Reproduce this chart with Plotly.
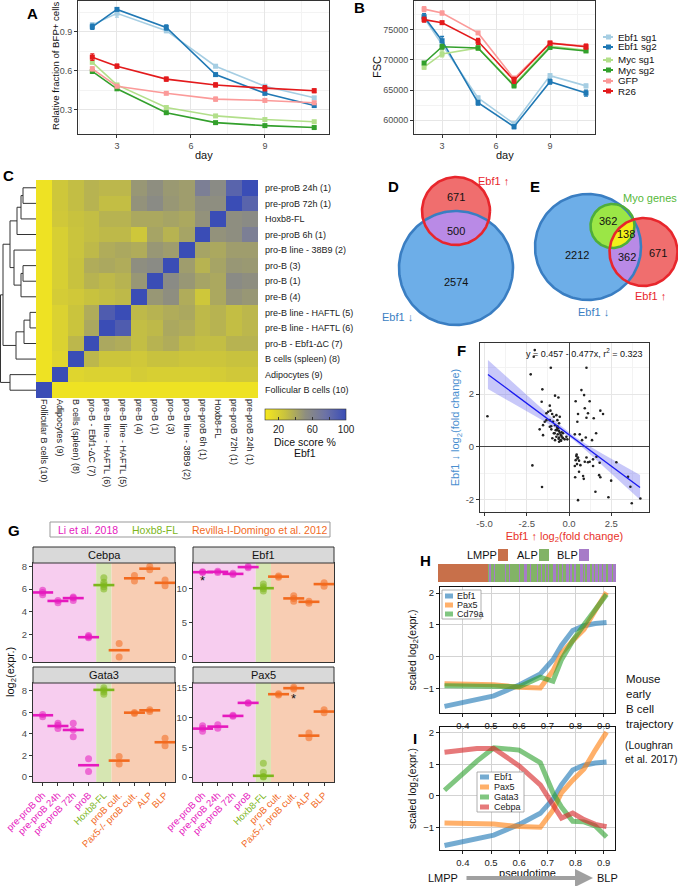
import numpy as np
import plotly.graph_objects as go

W, H = 678, 886
FONT = "Liberation Sans, Arial, Helvetica, sans-serif"

# ---------------- Panel A / B data ----------------
days = [2, 3, 5, 7, 9, 11]
series_names = ["Ebf1 sg1", "Ebf1 sg2", "Myc sg1", "Myc sg2", "GFP", "R26"]
series_colors = ["#A6CEE3", "#1F78B4", "#B2DF8A", "#33A02C", "#FB9A99", "#E31A1C"]

bfp_ebf1_sg1 = [0.955, 1.045, 0.91, 0.635, 0.48, 0.39]
bfp_ebf1_sg2 = [0.94, 1.075, 0.935, 0.57, 0.425, 0.33]
bfp_myc_sg1 = [0.665, 0.49, 0.315, 0.25, 0.222, 0.205]
bfp_myc_sg2 = [0.595, 0.46, 0.275, 0.198, 0.175, 0.16]
bfp_gfp = [0.615, 0.48, 0.425, 0.38, 0.37, 0.352]
bfp_r26 = [0.705, 0.635, 0.535, 0.49, 0.465, 0.445]
bfp_err_ebf1_sg1 = [0.015, 0.03, 0.015, 0.01, 0.01, 0.01]
bfp_err_ebf1_sg2 = [0.02, 0.01, 0.02, 0.01, 0.01, 0.01]
bfp_err_myc_sg1 = [0.01, 0.01, 0.01, 0.008, 0.008, 0.008]
bfp_err_myc_sg2 = [0.015, 0.01, 0.01, 0.008, 0.008, 0.008]
bfp_err_gfp = [0.015, 0.01, 0.008, 0.015, 0.01, 0.01]
bfp_err_r26 = [0.025, 0.015, 0.015, 0.015, 0.02, 0.015]

fsc_ebf1_sg1 = [77000, 72600, 63700, 59400, 67400, 65700]
fsc_ebf1_sg2 = [77200, 73200, 62900, 58900, 66400, 64500]
fsc_myc_sg1 = [68800, 71000, 72000, 65900, 72300, 71600]
fsc_myc_sg2 = [69500, 72200, 72000, 65700, 72100, 71500]
fsc_gfp = [78450, 77800, 74500, 66900, 72800, 72300]
fsc_r26 = [76700, 76200, 73100, 66600, 72800, 72200]
fsc_err_ebf1_sg1 = [300, 400, 300, 300, 300, 300]
fsc_err_ebf1_sg2 = [500, 700, 400, 300, 400, 500]
fsc_err_myc_sg1 = [300, 500, 300, 300, 300, 300]
fsc_err_myc_sg2 = [200, 400, 300, 300, 300, 200]
fsc_err_gfp = [400, 300, 200, 400, 300, 400]
fsc_err_r26 = [400, 200, 500, 500, 300, 400]

# ---------------- Panel C data ----------------
dice_cols = ["Follicular B cells (10)", "Adipocytes (9)", "B cells (spleen) (8)",
             "pro-B - Ebf1-\u0394C (7)", "pre-B line - HAFTL (6)", "pre-B line - HAFTL (5)",
             "pre-B (4)", "pro-B (1)", "pro-B (3)", "pro-B line - 38B9 (2)",
             "pre-proB 6h (1)", "Hoxb8-FL", "pre-proB 72h (1)", "pre-proB 24h (1)"]
dice_rows = list(reversed(dice_cols))
dice_values = [
    [8, 25, 30, 35, 33, 33, 48, 52, 47, 45, 65, 55, 85, 100],
    [8, 25, 30, 35, 30, 30, 50, 55, 48, 45, 52, 52, 100, 85],
    [8, 24, 28, 30, 35, 35, 40, 40, 42, 40, 50, 100, 52, 55],
    [8, 20, 27, 30, 32, 32, 25, 42, 35, 42, 100, 50, 52, 65],
    [8, 20, 27, 32, 38, 40, 38, 48, 45, 100, 42, 40, 45, 45],
    [8, 20, 28, 38, 40, 38, 52, 55, 100, 45, 35, 42, 48, 47],
    [8, 20, 28, 35, 32, 35, 48, 100, 55, 48, 42, 40, 55, 52],
    [8, 22, 24, 28, 30, 32, 100, 48, 52, 38, 25, 40, 50, 48],
    [8, 18, 27, 38, 90, 100, 32, 35, 38, 40, 32, 35, 30, 33],
    [8, 18, 27, 40, 100, 90, 30, 32, 40, 38, 32, 35, 30, 33],
    [8, 18, 33, 100, 40, 38, 30, 35, 38, 32, 30, 30, 35, 35],
    [8, 16, 100, 33, 26, 26, 24, 28, 28, 26, 26, 26, 28, 28],
    [8, 100, 16, 18, 18, 18, 22, 20, 20, 20, 20, 22, 24, 24],
    [100, 8, 8, 8, 8, 8, 8, 8, 8, 8, 8, 8, 8, 8],
]
# dendrogram merges: (child, child, x-position of the join)
dendro_merges = [(0, 1, 23), ("m0", 2, 21), ("m1", 3, 17), (5, 6, 23), ("m3", 7, 21),
                 (4, "m4", 14), ("m2", "m5", 10), (8, 9, 30), ("m7", 10, 24), ("m8", 11, 16),
                 ("m6", "m9", 3), (12, 13, 10), ("m10", "m11", 0.5)]

# ---------------- Panel D / E data ----------------
venn_d_up_only, venn_d_both, venn_d_down_only = 671, 500, 2574
venn_e_down_only, venn_e_myo_down, venn_e_myo_all, venn_e_down_up, venn_e_up_only = 2212, 362, 138, 362, 671

# ---------------- Panel F data ----------------
f_x = [-2.03, -2.09, -2.27, -1.08, 1.03, -4.83, -1.58, -1.62, -0.83, -0.63, -1.14, -1.24, -1.34, -1.1,
       -1.0, -0.9, -0.75, -0.55, -0.69, -0.95, -1.14, -1.44, -1.54, -1.74, -1.54, -1.05, -0.9, -0.79,
       -0.65, -0.55, -0.45, -0.36, -0.59, -0.75, -0.67, -0.51, -0.26, -0.99, -0.83, -0.69, -0.59, -1.14,
       0.39, 0.73, 0.89, 1.22, 0.93, 0.53, 0.49, 1.12, 1.46, 1.85, 2.01, 1.03, 0.34, 0.63, 0.99, 1.36,
       1.6, 0.77, 0.43, 0.53, 0.39, 0.59, 0.47, 0.34, 0.67, 0.93, 1.42, 1.03, 1.62, 1.81, 1.42, 0.36,
       0.83, 0.87, 0.59, 1.78, 1.85, 2.49, 2.8, 1.56, 2.33, 0.53, 3.49, 3.63, 3.71, 4.22, -2.17, -1.6,
       1.12, 1.22, -0.36, -0.16, -0.1, -0.39, -0.47, -0.59, -0.83, -0.71, -0.85, -1.06, -1.34, -0.6,
       -0.5, -0.7, -0.62, -0.44, 0.45, 0.5]
f_y = [3.67, 3.42, 2.75, 3.0, 3.0, 1.16, 2.18, 1.71, 1.94, 1.87, 1.56, 1.33, 1.27, 1.37,
       1.24, 1.14, 1.2, 1.14, 1.01, 0.95, 1.01, 0.95, 0.82, 0.66, 0.44, 0.66, 0.51, 0.63,
       0.7, 0.53, 0.41, 0.32, 0.35, 0.38, 0.47, 0.25, 0.28, 0.32, 0.82, 0.78, 0.89, 0.76,
       1.73, 2.15, 1.96, 1.73, 1.46, 1.24, 0.95, 1.27, 1.08, 1.37, 1.24, 1.1, 0.47, 0.47, 0.35, 0.25,
       0.51, 0.25, -0.35, -0.41, -0.51, -0.53, -0.66, -0.73, -0.7, -0.57, -0.48, -0.41, -0.38, -0.61, -0.73, -1.16,
       -1.11, -1.22, -0.95, -1.08, -1.16, -1.29, -0.59, -1.71, -1.92, -2.03, -1.14, -1.52, -2.15, -1.97, -0.71, -1.53,
       -0.59, -0.57, 0.51, 0.38, 0.28, 0.35, 0.23, 0.19, 0.25, 0.63, 0.51, 0.78, 1.01, 0.6,
       0.45, 0.72, 0.3, 0.55, -0.3, -0.45]
fit_intercept, fit_slope = 0.457, -0.477
fit_x_range = [-4.8, 4.2]
band_x = [-4.8, -3.5, -2.5, -1.5, -0.5, 0.3, 1.0, 2.0, 3.0, 4.2]
band_halfwidth = [0.55, 0.42, 0.31, 0.2, 0.11, 0.08, 0.12, 0.22, 0.33, 0.47]

# ---------------- Panel G data ----------------
g_categories = ["pre-proB 0h", "pre-proB 24h", "pre-proB 72h", "proB", "Hoxb8-FL",
                "proB cult.", "Pax5-/- proB cult.", "ALP", "BLP"]
g_groups = ["li", "li", "li", "li", "hox", "rev", "rev", "rev", "rev"]
g_group_colors = {"li": "#E619BE", "hox": "#7DB61C", "rev": "#F26A1E"}
cebpa_pts = [[5.5, 5.7, 5.9], [4.8, 5.0], [5.0, 5.2, 5.3], [1.7, 1.8, 1.9], [6.0, 6.2, 6.4, 6.6, 7.0],
             [1.2, 0.0], [6.7, 7.2], [7.7, 8.0], [6.3, 6.8]]
cebpa_med = [5.7, 4.95, 5.2, 1.75, 6.35, 0.6, 6.95, 7.8, 6.55]
ebf1_pts = [[12.4, 12.5], [12.4, 12.6], [12.1, 12.3], [13.1, 13.3], [9.7, 10.0, 10.3, 10.7],
            [11.7, 11.9], [8.2, 8.6, 9.0], [7.9, 8.2], [10.4, 10.9]]
ebf1_med = [12.45, 12.5, 12.2, 13.2, 10.1, 11.8, 8.6, 8.1, 10.7]
gata3_pts = [[5.6, 5.8], [4.5, 4.8, 5.0], [3.75, 4.4, 5.0], [0.5, 1.7], [7.7, 7.9, 8.1, 8.3],
             [1.2, 1.9], [5.9, 6.0], [6.1, 6.25], [2.9, 3.6]]
gata3_med = [5.74, 4.74, 4.37, 1.09, 8.1, 1.52, 5.98, 6.2, 3.23]
pax5_pts = [[7.7, 8.2, 8.6], [8.2, 8.8], [10.2, 10.4], [12.4, 12.5], [2.3, 0.8, 0.1, 0.0],
            [13.8, 14.0], [14.8, 15.1], [6.6, 7.4], [10.8, 11.3]]
pax5_med = [8.13, 8.47, 10.27, 12.46, 0.2, 13.92, 14.93, 6.95, 11.0]

# ---------------- Panel H / I data ----------------
pseudotime = [0.335, 0.4, 0.45, 0.51, 0.6, 0.675, 0.72, 0.75, 0.79, 0.83, 0.87, 0.91]
traj_ebf1 = [-1.57, -1.45, -1.35, -1.24, -0.9, -0.55, -0.1, 0.35, 0.82, 0.97, 1.04, 1.07]
traj_pax5 = [-0.86, -0.87, -0.88, -0.89, -0.97, -0.99, -0.45, 0.1, 0.5, 0.85, 1.45, 2.02]
traj_cd79a = [-0.92, -0.93, -0.94, -0.95, -0.95, -0.65, -0.78, -0.1, 0.5, 1.0, 1.5, 1.95]
traj_gata3 = [0.18, 0.7, 1.1, 1.52, 1.45, 1.05, 0.1, -0.35, -0.8, -0.82, -0.95, -1.3]
traj_cebpa = [1.38, 1.46, 1.5, 1.5, 0.95, 0.35, -0.3, -0.7, -0.54, -0.75, -0.9, -0.97]
cell_states = ("LLLLLLLLLLLLLLLLLLLLLLLLLLLLLLLLLLLL"
               "ABAABAAAAAAABAABAAAAAABAAABBAABAAAAB"
               "AABAABABAAABBABAABAABBABAABAAABBABAB"
               "BAABABBABBABBABBBABB")
state_names = ["LMPP", "ALP", "BLP"]
state_colors = ["#C8704A", "#82B366", "#A77BC8"]

# ======================================================================
fig = go.Figure()
shapes, annos, axes = [], [], {}


def set_axes(n, x0, x1, y0, y1, xa, ya):
    xk = "xaxis" if n == 1 else f"xaxis{n}"
    yk = "yaxis" if n == 1 else f"yaxis{n}"
    xr = "x" if n == 1 else f"x{n}"
    yr = "y" if n == 1 else f"y{n}"
    axes[xk] = dict(domain=[x0 / W, x1 / W], anchor=yr, automargin=False, **xa)
    axes[yk] = dict(domain=[1 - y1 / H, 1 - y0 / H], anchor=xr, automargin=False, **ya)
    return xr, yr


def text(x, y, s, size=10, color="#222", xanchor="center", yanchor="middle", angle=0, align="center"):
    annos.append(dict(xref="paper", yref="paper", x=x / W, y=1 - y / H, text=s, showarrow=False,
                      font=dict(size=size, color=color, family=FONT), xanchor=xanchor,
                      yanchor=yanchor, textangle=angle, align=align))


def rect(x0, y0, x1, y1, fill, line=None, lw=1, layer="above"):
    shapes.append(dict(type="rect", xref="paper", yref="paper", x0=x0 / W, x1=x1 / W,
                       y0=1 - y1 / H, y1=1 - y0 / H, fillcolor=fill, layer=layer,
                       line=dict(color=line if line else "rgba(0,0,0,0)", width=lw if line else 0)))


def hline(x0, x1, y, color, width):
    shapes.append(dict(type="line", xref="paper", yref="paper", x0=x0 / W, x1=x1 / W,
                       y0=1 - y / H, y1=1 - y / H, line=dict(color=color, width=width)))


FRAME = dict(showline=True, mirror=True, linecolor="#333333", linewidth=1, zeroline=False)
TICKF = dict(size=9.5, color="#4D4D4D", family=FONT)
TICKF_AB = dict(size=9, color="#4D4D4D", family=FONT)


def bw_axis(rng, tickvals, ticktext, minor_vals, title="", tsize=11, tickfont=TICKF):
    d = dict(range=rng, tickvals=tickvals, ticktext=ticktext, ticks="outside", ticklen=3,
             tickcolor="#333", tickfont=tickfont, showgrid=True, gridcolor="#E6E6E6", gridwidth=1,
             minor=dict(tickvals=minor_vals, showgrid=True, gridcolor="#F3F3F3", gridwidth=0.6, ticks=""),
             title=dict(text=title, font=dict(size=tsize, color="#111", family=FONT), standoff=3), **FRAME)
    return d


# ---------------- Panel A ----------------
xa, ya = set_axes(1, 78, 329, 1, 134,
                  bw_axis([1.42, 11.6], [3, 6, 9], ["3", "6", "9"], [1.5, 4.5, 7.5, 10.5], tickfont=TICKF_AB),
                  bw_axis([0.11, 1.14], [0.3, 0.6, 0.9], ["0.3", "0.6", "0.9"], [0.45, 0.75, 1.05],
                          tickfont=TICKF_AB))
text(203.5, 155, "day", size=11, color="#111")
text(55, 66, "Relative fraction of BFP+ cells", size=9.6, color="#111", angle=-90)
bfp_series = [bfp_ebf1_sg1, bfp_ebf1_sg2, bfp_myc_sg1, bfp_myc_sg2, bfp_gfp, bfp_r26]
bfp_errs = [bfp_err_ebf1_sg1, bfp_err_ebf1_sg2, bfp_err_myc_sg1, bfp_err_myc_sg2, bfp_err_gfp, bfp_err_r26]
for name, col, vals, err in zip(series_names, series_colors, bfp_series, bfp_errs):
    fig.add_trace(go.Scatter(x=days, y=vals, mode="lines+markers", name=name, xaxis=xa, yaxis=ya,
                             line=dict(color=col, width=1.6), marker=dict(color=col, size=5, symbol="square"),
                             error_y=dict(type="data", array=err, color=col, thickness=1.3, width=2),
                             showlegend=False))

# ---------------- Panel B ----------------
xb, yb = set_axes(2, 414, 595, 1, 134,
                  bw_axis([1.44, 11.5], [3, 6, 9], ["3", "6", "9"], [1.5, 4.5, 7.5, 10.5], tickfont=TICKF_AB),
                  bw_axis([57700, 79800], [60000, 65000, 70000, 75000],
                          ["60000", "65000", "70000", "75000"], [62500, 67500, 72500, 77500], tickfont=TICKF_AB))
text(504.5, 155, "day", size=11, color="#111")
text(377, 67, "FSC", size=11, color="#111", angle=-90)
fsc_series = [fsc_ebf1_sg1, fsc_ebf1_sg2, fsc_myc_sg1, fsc_myc_sg2, fsc_gfp, fsc_r26]
fsc_errs = [fsc_err_ebf1_sg1, fsc_err_ebf1_sg2, fsc_err_myc_sg1, fsc_err_myc_sg2, fsc_err_gfp, fsc_err_r26]
for name, col, vals, err in zip(series_names, series_colors, fsc_series, fsc_errs):
    fig.add_trace(go.Scatter(x=days, y=vals, mode="lines+markers", name=name, xaxis=xb, yaxis=yb,
                             line=dict(color=col, width=1.6), marker=dict(color=col, size=5, symbol="square"),
                             error_y=dict(type="data", array=err, color=col, thickness=1.3, width=2),
                             showlegend=False))
# manual legend for B
leg_y = [37, 47, 60, 70, 81, 91]
for name, col, yy in zip(series_names, series_colors, leg_y):
    hline(603, 613, yy, col, 2)
    rect(606, yy - 2.5, 611, yy + 2.5, col)
    text(616, yy, name, size=9.8, color="#111", xanchor="left")

# ---------------- Panel C ----------------
n_items = len(dice_cols)
xc, yc = set_axes(3, 36, 258, 180, 398,
                  dict(range=[-0.5, n_items - 0.5], tickvals=list(range(n_items)), ticktext=dice_cols,
                       tickangle=90, tickfont=dict(size=9, color="#222", family=FONT), ticks="",
                       showgrid=False, zeroline=False, showline=False),
                  dict(range=[n_items - 0.5, -0.5], tickvals=list(range(n_items)), ticktext=dice_rows,
                       side="right", tickfont=dict(size=9, color="#222", family=FONT), ticks="",
                       ticklabelstandoff=6, showgrid=False, zeroline=False, showline=False))
fig.add_trace(go.Heatmap(z=dice_values, x=list(range(n_items)), y=list(range(n_items)), xaxis=xc, yaxis=yc,
                         zmin=4, zmax=100,
                         colorscale=[[0, "#F6E81E"], [0.25, "#C8C23E"], [0.5, "#8E8E80"], [0.75, "#6C72A6"],
                                     [1, "#3A4DB6"]],
                         colorbar=dict(orientation="h", x=305.5 / W, xanchor="center", y=1 - 409 / H,
                                       yanchor="top", xpad=0, ypad=0, lenmode="pixels", len=81, thickness=11,
                                       tickvals=[20, 40, 60, 80, 100], ticktext=["20", " ", "60", " ", "100"],
                                       ticks="inside", ticklen=3, tickcolor="#333",
                                       tickfont=dict(size=10, color="#222", family=FONT),
                                       outlinecolor="#333", outlinewidth=0.6),
                         hoverinfo="skip"))
text(305, 442, "Dice score %", size=10.5, color="#111")
text(305, 453, "Ebf1", size=10.5, color="#111")

# dendrogram
xd, yd = set_axes(4, 0, 36, 180, 398,
                  dict(range=[0, 36], visible=False, fixedrange=True),
                  dict(range=[n_items - 0.5, -0.5], visible=False, fixedrange=True))
nodes = {i: (36.0, float(i)) for i in range(n_items)}
dx, dy = [], []
for k, (a, b, xm) in enumerate(dendro_merges):
    xa_, ya_ = nodes[a]
    xb_, yb_ = nodes[b]
    dx += [xa_, xm, xm, xb_, None]
    dy += [ya_, ya_, yb_, yb_, None]
    nodes[f"m{k}"] = (xm, (ya_ + yb_) / 2)
fig.add_trace(go.Scatter(x=dx, y=dy, mode="lines", line=dict(color="#333", width=1), xaxis=xd, yaxis=yd,
                         showlegend=False, hoverinfo="skip"))

# ---------------- Panels D / E (Venn) ----------------
xv, yv = set_axes(5, 0, W, 0, H, dict(range=[0, W], visible=False, fixedrange=True),
                  dict(range=[H, 0], visible=False, fixedrange=True))


def circle_xy(c, n=200):
    t = np.linspace(0, 2 * np.pi, n)
    return c[0] + c[2] * np.cos(t), c[1] + c[2] * np.sin(t)


def lens_xy(c1, c2, n=400):
    t = np.linspace(0, 2 * np.pi, n, endpoint=False)
    ax1, ay1 = c1[0] + c1[2] * np.cos(t), c1[1] + c1[2] * np.sin(t)
    ax2, ay2 = c2[0] + c2[2] * np.cos(t), c2[1] + c2[2] * np.sin(t)
    m1 = (ax1 - c2[0]) ** 2 + (ay1 - c2[1]) ** 2 <= c2[2] ** 2
    m2 = (ax2 - c1[0]) ** 2 + (ay2 - c1[1]) ** 2 <= c1[2] ** 2
    px = np.concatenate([ax1[m1], ax2[m2]])
    py = np.concatenate([ay1[m1], ay2[m2]])
    o = np.argsort(np.arctan2(py - py.mean(), px - px.mean()))
    px, py = px[o], py[o]
    return np.append(px, px[0]), np.append(py, py[0])


def fill_poly(xy, color):
    fig.add_trace(go.Scatter(x=xy[0], y=xy[1], mode="lines", fill="toself", fillcolor=color,
                             line=dict(width=0, color=color), xaxis=xv, yaxis=yv,
                             showlegend=False, hoverinfo="skip"))


def outline(c, color, w=2.6):
    xy = circle_xy(c)
    fig.add_trace(go.Scatter(x=xy[0], y=xy[1], mode="lines", line=dict(width=w, color=color),
                             xaxis=xv, yaxis=yv, showlegend=False, hoverinfo="skip"))


BLUE_F, BLUE_L = "#6DAEE8", "#3A7EC2"
RED_F, RED_L = "#F06E6E", "#E8262C"
PURP_F = "#B98AE6"
GREEN_F, GREEN_L = "#9BE646", "#4FAE3A"
YELLOW_F = "#F2F01A"

d_blue = (456, 268, 57)
d_red = (456, 211, 34)
fill_poly(circle_xy(d_blue), BLUE_F)
fill_poly(circle_xy(d_red), RED_F)
fill_poly(lens_xy(d_blue, d_red), PURP_F)
outline(d_blue, BLUE_L)
outline(d_red, RED_L)
text(456, 197, str(venn_d_up_only), size=11, color="#111")
text(456, 231, str(venn_d_both), size=11, color="#111")
text(456, 282, str(venn_d_down_only), size=11, color="#111")
text(494, 181, "Ebf1 \u2191", size=11, color="#E8262C")
text(397, 317, "Ebf1 \u2193", size=11, color="#3A7EC2")

e_blue = (588, 247, 53)
e_green = (612.5, 226, 22)
e_red = (643.5, 252, 34)
fill_poly(circle_xy(e_blue), BLUE_F)
fill_poly(circle_xy(e_red), RED_F)
fill_poly(lens_xy(e_blue, e_red), PURP_F)
fill_poly(circle_xy(e_green), GREEN_F)
fill_poly(lens_xy(e_green, e_red), YELLOW_F)
outline(e_blue, BLUE_L)
outline(e_green, GREEN_L)
outline(e_red, RED_L)
text(608, 221, str(venn_e_myo_down), size=11, color="#111")
text(626, 234, str(venn_e_myo_all), size=11, color="#111")
text(627, 257, str(venn_e_down_up), size=11, color="#111")
text(577, 255, str(venn_e_down_only), size=11, color="#111")
text(658, 253, str(venn_e_up_only), size=11, color="#111")
text(650, 198, "Myo genes", size=11, color="#56B83A")
text(650, 296, "Ebf1 \u2191", size=11, color="#E8262C")
text(593, 312, "Ebf1 \u2193", size=11, color="#3A7EC2")

# ---------------- Panel F ----------------
f_xaxis = bw_axis([-5.27, 4.73], [-5, -2.5, 0, 2.5], ["-5.0", "-2.5", "0.0", "2.5"], [-3.75, -1.25, 1.25, 3.75],
                  "Ebf1 \u2191 log<sub>2</sub>(fold change)")
f_xaxis["title"]["font"]["color"] = "#E8332A"
f_xaxis.update(zeroline=True, zerolinecolor="#444", zerolinewidth=1.3)
f_yaxis = bw_axis([-2.48, 3.94], [-2, 0, 2], ["-2", "0", "2"], [-1, 1, 3],
                  "Ebf1 \u2193 log<sub>2</sub>(fold change)")
f_yaxis["title"]["font"]["color"] = "#4A8FD0"
f_yaxis.update(zeroline=True, zerolinecolor="#444", zerolinewidth=1.3)
xf, yf = set_axes(7, 480, 649, 343, 512, f_xaxis, f_yaxis)
bx = np.array(band_x)
bline = fit_intercept + fit_slope * bx
bhw = np.array(band_halfwidth)
fig.add_trace(go.Scatter(x=np.concatenate([bx, bx[::-1]]), y=np.concatenate([bline + bhw, (bline - bhw)[::-1]]),
                         mode="lines", fill="toself", fillcolor="rgba(110,110,240,0.38)", line=dict(width=0),
                         xaxis=xf, yaxis=yf, showlegend=False, hoverinfo="skip"))
fig.add_trace(go.Scatter(x=f_x, y=f_y, mode="markers", marker=dict(size=2.6, color="#222"),
                         xaxis=xf, yaxis=yf, showlegend=False))
fx_line = np.array(fit_x_range)
fig.add_trace(go.Scatter(x=fx_line, y=fit_intercept + fit_slope * fx_line, mode="lines",
                         line=dict(color="#1A1AF0", width=1.3), xaxis=xf, yaxis=yf, showlegend=False))
text(645, 353, "y = 0.457 - 0.477x, r<sup>2</sup> = 0.323", size=9, color="#111", xanchor="right")

# ---------------- Panel G ----------------
rect(50, 522, 330, 537, "white", "#999", 1)
text(88, 529.5, "Li et al. 2018", size=10.5, color=g_group_colors["li"])
text(155, 529.5, "Hoxb8-FL", size=10.5, color=g_group_colors["hox"])
text(260, 529.5, "Revilla-I-Domingo et al. 2012", size=10.5, color=g_group_colors["rev"])

g_ticktext = [f"<span style='color:{g_group_colors[g]}'>{c}</span>" for c, g in zip(g_categories, g_groups)]
facets = [
    (8, "Cebpa", cebpa_pts, cebpa_med, (33, 175, 563, 662), [-0.44, 8.3], [0, 2, 4, 6, 8], False),
    (9, "Ebf1", ebf1_pts, ebf1_med, (193, 334, 563, 662), [-0.74, 13.8], [0, 5, 10], False),
    (10, "Gata3", gata3_pts, gata3_med, (33, 175, 683, 782), [-0.47, 8.74], [0, 2, 4, 6, 8], True),
    (11, "Pax5", pax5_pts, pax5_med, (193, 334, 683, 782), [-0.84, 15.8], [0, 5, 10, 15], True),
]
bg_spans = [(-0.63, 3.5, "#F7CDEF"), (3.5, 4.5, "#D6E6B2"), (4.5, 8.65, "#F8CDB3")]
for n, gene, pts, med, (x0, x1, y0, y1), yr_, yt, bottom in facets:
    xg_ax = dict(range=[-0.63, 8.65], tickvals=list(range(9)), ticktext=g_ticktext,
                 showticklabels=bottom, tickangle=-45, ticks="outside" if bottom else "", ticklen=3,
                 tickcolor="#333", tickfont=dict(size=9.5, family=FONT), showgrid=False, **FRAME)
    yg_ax = dict(range=yr_, tickvals=yt, ticks="outside", ticklen=3, tickcolor="#333", tickfont=TICKF,
                 showgrid=False, **FRAME)
    xg, yg = set_axes(n, x0, x1, y0, y1, xg_ax, yg_ax)
    for a, b, colr in bg_spans:
        shapes.append(dict(type="rect", xref=xg, yref=f"{yg} domain", x0=a, x1=b, y0=0, y1=1,
                           fillcolor=colr, line=dict(width=0), layer="below"))
    rect(x0, y0 - 16, x1, y0, "#D9D9D9", "#333", 1)
    text((x0 + x1) / 2, y0 - 8, gene, size=11, color="#111")
    for i, (p, m, g) in enumerate(zip(pts, med, g_groups)):
        colr = g_group_colors[g]
        fig.add_trace(go.Scatter(x=[i] * len(p), y=p, mode="markers", xaxis=xg, yaxis=yg,
                                 marker=dict(size=7, color=colr, opacity=0.55), showlegend=False))
        fig.add_trace(go.Scatter(x=[i], y=[m], mode="markers", xaxis=xg, yaxis=yg,
                                 marker=dict(symbol="line-ew", size=15, line=dict(width=2.6, color=colr)),
                                 showlegend=False))
    if gene == "Ebf1":
        annos.append(dict(xref=xg, yref=yg, x=0, y=11.2, text="*", showarrow=False,
                          font=dict(size=13, color="#111")))
    if gene == "Pax5":
        annos.append(dict(xref=xg, yref=yg, x=6, y=13.2, text="*", showarrow=False,
                          font=dict(size=13, color="#111")))
text(11, 672, "log<sub>2</sub>(expr.)", size=11, color="#111", angle=-90)

# ---------------- Panel H / I ----------------
xh_range = [0.319, 0.94]


def traj_axes(yrng, show_title_x):
    xa_ = dict(range=xh_range, tickvals=[0.4, 0.5, 0.6, 0.7, 0.8, 0.9], ticks="outside", ticklen=3,
               tickcolor="#222", tickfont=dict(size=9.5, color="#222", family=FONT), showgrid=True,
               gridcolor="#D3D3D3", gridwidth=1, showline=True, mirror=True, linecolor="#111",
               linewidth=1.2, zeroline=False)
    if show_title_x:
        xa_["title"] = dict(text="pseudotime", font=dict(size=11, color="#111", family=FONT), standoff=2)
    ya_ = dict(range=yrng, tickvals=[-1, 0, 1, 2], ticks="outside", ticklen=3, tickcolor="#222",
               tickfont=dict(size=9.5, color="#222", family=FONT), showgrid=True, gridcolor="#D3D3D3",
               gridwidth=1, showline=True, mirror=True, linecolor="#111", linewidth=1.2, zeroline=False,
               title=dict(text="scaled log<sub>2</sub>(expr.)", font=dict(size=10.5, color="#111", family=FONT),
                          standoff=4))
    return xa_, ya_


TC = {"Ebf1": "rgba(31,119,180,0.62)", "Pax5": "rgba(255,127,14,0.62)", "Cd79a": "rgba(44,160,44,0.6)",
      "Gata3": "rgba(44,160,44,0.6)", "Cebpa": "rgba(214,39,40,0.62)"}

xh, yh = set_axes(12, 440, 615, 587, 713, *traj_axes([-1.78, 2.19], False))
for nm, vals in [("Ebf1", traj_ebf1), ("Pax5", traj_pax5), ("Cd79a", traj_cd79a)]:
    fig.add_trace(go.Scatter(x=pseudotime, y=vals, mode="lines", line=dict(color=TC[nm], width=5),
                             xaxis=xh, yaxis=yh, showlegend=False))
xi, yi = set_axes(13, 440, 615, 727, 850, *traj_axes([-1.71, 2.18], True))
for nm, vals in [("Ebf1", traj_ebf1), ("Pax5", traj_pax5), ("Gata3", traj_gata3), ("Cebpa", traj_cebpa)]:
    fig.add_trace(go.Scatter(x=pseudotime, y=vals, mode="lines", line=dict(color=TC[nm], width=5),
                             xaxis=xi, yaxis=yi, showlegend=False))

# legends for H and I (drawn inside plots)
rect(442, 590, 481, 619, "white", "#999", 0.8)
for nm, yy in zip(["Ebf1", "Pax5", "Cd79a"], [596, 605, 614]):
    rect(445, yy - 2.5, 453, yy + 2.5, TC[nm])
    text(455, yy, nm, size=9, color="#222", xanchor="left")
rect(477, 772, 524, 812, "white", "#999", 0.8)
for nm, yy in zip(["Ebf1", "Pax5", "Gata3", "Cebpa"], [777, 787, 797, 807]):
    rect(480, yy - 2.5, 489, yy + 2.5, TC[nm])
    text(492, yy, nm, size=9, color="#222", xanchor="left")

# cell-state strip
codes = [state_names.index({"L": "LMPP", "A": "ALP", "B": "BLP"}[c]) for c in cell_states]
xs, ys = set_axes(6, 438, 616, 564, 582, dict(range=[-0.5, len(codes) - 0.5], visible=False, fixedrange=True),
                  dict(range=[-0.5, 0.5], visible=False, fixedrange=True))
fig.add_trace(go.Heatmap(z=[codes], x=list(range(len(codes))), y=[0], xaxis=xs, yaxis=ys, zmin=0, zmax=2,
                         colorscale=[[0, state_colors[0]], [0.333, state_colors[0]], [0.333, state_colors[1]],
                                     [0.667, state_colors[1]], [0.667, state_colors[2]], [1, state_colors[2]]],
                         showscale=False, hoverinfo="skip"))
for nm, colr, tx, sx in zip(state_names, state_colors, [482, 527, 567], [498, 539, 579]):
    text(tx, 555, nm, size=11, color="#111")
    rect(sx, 549, sx + 10, 561, colr)

text(624, 671, "Mouse<br>early<br>B cell<br>trajectory", size=11.5, color="#111", xanchor="left",
     yanchor="top", align="left")
text(623, 737, "(Loughran<br>et al. 2017)", size=10.5, color="#111", xanchor="left", yanchor="top",
     align="left")
text(443, 878, "LMPP", size=11, color="#111")
text(607, 878, "BLP", size=11, color="#111")
annos.append(dict(xref="paper", yref="paper", x=593 / W, y=1 - 878 / H, ax=-128, ay=0, text="",
                  showarrow=True, arrowhead=2, arrowsize=0.9, arrowwidth=4, arrowcolor="#A0A0A0"))

# ---------------- panel letters ----------------
for letter, (lx, ly) in {"A": (32, 13), "B": (359, 8), "C": (8, 176), "D": (393, 187), "E": (535, 187),
                         "F": (461, 350), "G": (14, 530), "H": (425, 560), "I": (415, 738)}.items():
    annos.append(dict(xref="paper", yref="paper", x=lx / W, y=1 - ly / H, text=f"<b>{letter}</b>",
                      showarrow=False, font=dict(size=15, color="#000", family=FONT),
                      xanchor="center", yanchor="middle"))

fig.update_layout(width=W, height=H, margin=dict(l=0, r=0, t=0, b=0, autoexpand=False),
                  paper_bgcolor="white", plot_bgcolor="rgba(0,0,0,0)",
                  font=dict(family=FONT, size=10, color="#222"), showlegend=False,
                  shapes=shapes, annotations=annos, **axes)
fig.write_html("out.html", config={"displayModeBar": False},
               post_script="document.body.style.margin='0px';document.body.style.overflow='hidden';")
